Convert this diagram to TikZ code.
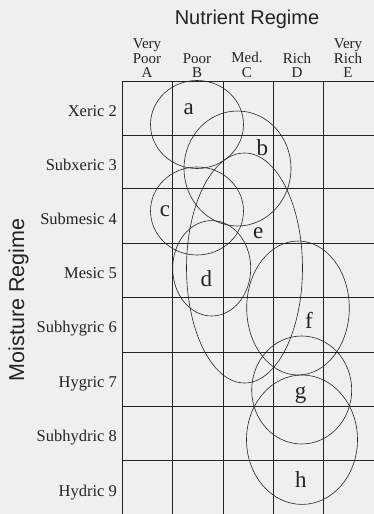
\documentclass[tikz,border=0pt]{standalone}
\usepackage{fontspec}
\setmainfont{Liberation Serif}
\newfontfamily\axisfont{Liberation Sans}
\usetikzlibrary{shapes.geometric, positioning}
\definecolor{scanbg}{RGB}{239,239,239}
\definecolor{inkgray}{RGB}{35,35,35}

\begin{document}
\begin{tikzpicture}[
    x=1pt, y=-1pt,
    gridline/.style={draw=inkgray, line width=0.85pt},
    zone/.style={ellipse, draw=inkgray, line width=0.6pt, inner sep=0pt},
    zonelabel/.style={font=\fontsize{23}{23}\selectfont, inner sep=0pt, text=inkgray},
    collabel/.style={font=\fontsize{15}{14.2}\selectfont, align=center,
                     inner sep=0pt, anchor=south, text=inkgray},
    rowlabel/.style={font=\fontsize{16.5}{16.5}\selectfont, anchor=base east,
                     inner sep=0pt, text=inkgray},
    axislabel/.style={font=\axisfont\fontsize{20}{20}\selectfont,
                      inner sep=0pt, anchor=base, text=inkgray}
]
\fill[scanbg] (0,0) rectangle (374,514);
\useasboundingbox (0,0) rectangle (374,514);

% Grid
\foreach \y in {81,135,188.5,243,297.5,352,406.5,460.5}
    \draw[gridline] (122,\y) -- (374,\y);
\foreach \x in {122,172.5,223,273,323}
    \draw[gridline] (\x,81) -- (\x,514);

% Axis titles
\node[axislabel] (nutrient) at (247,24) {Nutrient Regime};
\node[axislabel, rotate=90, font=\axisfont\fontsize{21.5}{21.5}\selectfont] (moisture) at (24,300) {Moisture Regime};

% Nutrient columns
\node[collabel] (colA) at (147,77.5) {Very\\Poor\\A};
\node[collabel] (colB) at (197,77.5) {Poor\\B};
\node[collabel] (colC) at (247,77.5) {Med.\\C};
\node[collabel] (colD) at (297,77.5) {Rich\\D};
\node[collabel] (colE) at (348,77.5) {Very\\Rich\\E};

% Moisture rows
\node[rowlabel] (row2) at (117,116) {Xeric 2};
\node[rowlabel] (row3) at (117,170) {Subxeric 3};
\node[rowlabel] (row4) at (117,224) {Submesic 4};
\node[rowlabel] (row5) at (117,278) {Mesic 5};
\node[rowlabel] (row6) at (117,332) {Subhygric 6};
\node[rowlabel] (row7) at (117,387) {Hygric 7};
\node[rowlabel] (row8) at (117,441) {Subhydric 8};
\node[rowlabel] (row9) at (117,496) {Hydric 9};

% Site units
\node[zone, minimum width=93, minimum height=88] (za) at (197,124.5) {};
\node[zone, minimum width=107, minimum height=115] (zb) at (237.5,168.5) {};
\node[zone, minimum width=93, minimum height=88] (zc) at (197,211) {};
\node[zone, minimum width=78, minimum height=95.4] (zd) at (211.7,268.3) {};
\node[zone, minimum width=116, minimum height=230] (ze) at (244.5,268) {};
\node[zone, minimum width=102.6, minimum height=134] (zf) at (298,308) {};
\node[zone, minimum width=100, minimum height=108] (zg) at (301.7,390) {};
\node[zone, minimum width=111, minimum height=129.4] (zh) at (302,439.7) {};

\node[zonelabel] (la) at (188.8,108.8) {a};
\node[zonelabel] (lb) at (262.3,147.3) {b};
\node[zonelabel] (lc) at (165,210.7) {c};
\node[zonelabel] (ld) at (206.3,278.3) {d};
\node[zonelabel] (le) at (258.3,232.7) {e};
\node[zonelabel] (lf) at (309,320) {f};
\node[zonelabel] (lg) at (300.5,395.5) {g};
\node[zonelabel] (lh) at (300.8,480) {h};

\end{tikzpicture}
\end{document}
